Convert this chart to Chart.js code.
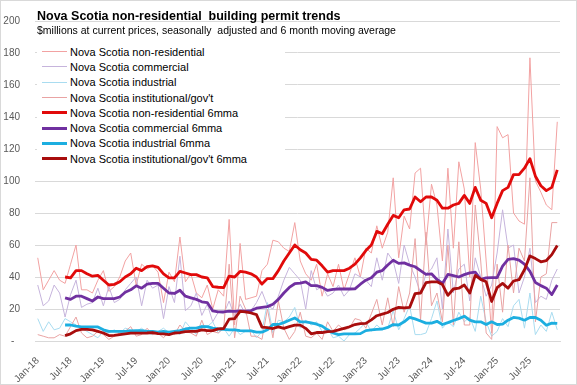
<!DOCTYPE html>
<html lang="en">
    <head>
        <meta charset="utf-8" />
        <script src="https://cdn.jsdelivr.net/npm/chart.js@4.4.1/dist/chart.umd.min.js"></script>
        <title>Nova Scotia non-residential building permit trends</title>
        <style>
            body { margin: 0; background: #fff; font-family: "Liberation Sans", Arial, sans-serif; }
            #wrap { position: relative; width: 577px; height: 385px; }
            #frame { position: absolute; left: 0; top: 0; width: 575px; height: 383px; border: 1px solid #d9d9d9; pointer-events: none; }
            #titulo { position: absolute; left: 37px; top: 9px; font-size: 12.5px; font-weight: bold; line-height: 14px; color: #000; white-space: pre; }
            #subtitulo { position: absolute; left: 37px; top: 24px; font-size: 10.5px; line-height: 12px; color: #000; white-space: pre; }
            #leyenda { position: absolute; left: 37px; top: 44px; width: 248px; background: #fff; padding: 0; }
            .item { height: 15.3px; display: flex; align-items: center; font-size: 11px; color: #000; white-space: pre; }
            .linea { width: 25px; margin-left: 5px; margin-right: 3px; }
        </style>
    </head>
    <body>
        <div id="wrap">
            <canvas id="permisos" width="577" height="385"></canvas>
            <div id="titulo">Nova Scotia non-residential  building permit trends</div>
            <div id="subtitulo">$millions at current prices, seasonally  adjusted and 6 month moving average</div>
            <div id="leyenda"></div>
            <div id="frame"></div>
        </div>
        <script>
            const meses = [
                "Jan-18","Feb-18","Mar-18","Apr-18","May-18","Jun-18","Jul-18","Aug-18","Sep-18","Oct-18","Nov-18","Dec-18",
                "Jan-19","Feb-19","Mar-19","Apr-19","May-19","Jun-19","Jul-19","Aug-19","Sep-19","Oct-19","Nov-19","Dec-19",
                "Jan-20","Feb-20","Mar-20","Apr-20","May-20","Jun-20","Jul-20","Aug-20","Sep-20","Oct-20","Nov-20","Dec-20",
                "Jan-21","Feb-21","Mar-21","Apr-21","May-21","Jun-21","Jul-21","Aug-21","Sep-21","Oct-21","Nov-21","Dec-21",
                "Jan-22","Feb-22","Mar-22","Apr-22","May-22","Jun-22","Jul-22","Aug-22","Sep-22","Oct-22","Nov-22","Dec-22",
                "Jan-23","Feb-23","Mar-23","Apr-23","May-23","Jun-23","Jul-23","Aug-23","Sep-23","Oct-23","Nov-23","Dec-23",
                "Jan-24","Feb-24","Mar-24","Apr-24","May-24","Jun-24","Jul-24","Aug-24","Sep-24","Oct-24","Nov-24","Dec-24",
                "Jan-25","Feb-25","Mar-25","Apr-25","May-25","Jun-25","Jul-25","Aug-25","Sep-25","Oct-25","Nov-25","Dec-25"
            ];
            const ticksY = [0, 20, 40, 60, 80, 100, 120, 140, 160, 180, 200];

            // valores mensuales
            const noResidencial = [
                52, 32, 38, 44, 38, 36, 48, 60, 32, 32, 30, 38,
                44, 31, 34, 40, 50, 55, 35, 48, 45, 47, 43, 24,
                43, 37, 65, 37, 42, 30, 27, 35, 20, 32, 28, 76,
                10, 61, 26, 27, 28, 44, 48, 63, 62, 58, 56, 74,
                50, 42, 38, 48, 28, 42, 34, 48, 32, 42, 52, 40,
                58, 55, 72, 58, 68, 102, 52, 78, 70, 105, 108, 60,
                98, 85, 50, 108, 58, 112, 95, 40, 124, 95, 50, 5,
                134, 127, 129, 80, 75, 73, 177, 100, 93, 85, 82, 137
            ];
            const comercial = [
                35, 22, 25, 35, 30, 15, 29, 38, 21, 23, 24, 33,
                22, 34, 24, 26, 32, 36, 40, 22, 38, 33, 35, 14,
                34, 24, 53, 19, 22, 30, 16, 23, 12, 18, 17, 25,
                15, 23, 17, 19, 24, 31, 22, 20, 28, 38, 46, 42,
                38, 20, 44, 32, 34, 28, 30, 35, 28, 32, 42, 40,
                38, 34, 52, 38, 55, 50, 36, 60, 48, 40, 30, 42,
                45, 52, 20, 70, 30, 45, 48, 25, 52, 40, 28, 35,
                55, 82, 58, 60, 30, 40, 58, 24, 28, 26, 38, 45
            ];
            const industrial = [
                14, 6, 12, 7, 8, 14, 12, 10, 8, 6, 4, 2,
                6, 5, 7, 5, 8, 7, 6, 8, 5, 4, 6, 8,
                5, 6, 4, 12, 8, 4, 10, 9, 12, 5, 8, 3,
                8, 4, 6, 7, 2, 6, 24, 5, 13, 12, 15, 21,
                8, 13, 10, 12, 6, 8, 2, 3, 0, 4, 5, 8,
                12, 6, 10, 7, 8, 19, 7, 14, 22, 4, 4, 5,
                14, 25, 8, 12, 9, 18, 12, 15, 6, 28, 12, 3,
                6, 14, 9, 22, 26, 8, 30, 4, 10, 6, 18, 7
            ];
            const institucional = [
                4, 3, 2, 2, 4, 3, 9, 15, 5, 2, 3, 6,
                4, 1, 3, 5, 6, 9, 3, 4, 8, 4, 5, 2,
                6, 4, 10, 6, 5, 3, 13, 4, 6, 5, 8, 48,
                2, 28, 20, 3, 3, 1, 20, 2, 25, 8, 1, 6,
                18, 3, 2, 5, 1, 12, 6, 10, 7, 8, 14, 13,
                8, 17, 26, 10, 27, 9, 34, 18, 30, 64, 13, 68,
                22, 30, 12, 60, 10, 62, 10, 10, 85, 50, 5, 1,
                48, 18, 60, 30, 58, 50, 102, 12, 40, 42, 74, 74
            ];

            // promedios moviles de 6 meses
            const noResidencial6 = [
                null, null, null, null, null, 40, 39.5, 44, 44, 42, 40.5, 41,
                38, 35, 35.4, 37, 40, 42, 45.5, 44, 46.5, 47, 46, 42,
                39.5, 39.5, 43.5, 42.5, 41.5, 41.5, 40, 39.5, 34, 33.6, 33.4, 40.5,
                40, 43.5, 43, 42, 40, 35.6, 39, 39, 44, 50, 55, 60,
                57, 55, 51, 50.5, 47, 43, 44, 44, 44, 45.5, 48, 52,
                56.5, 60, 68.5, 67, 73, 78.5, 77, 82, 82.5, 90, 87, 90,
                90, 88, 83, 83, 85, 86, 91, 86, 96, 88, 86, 77,
                86, 94, 96, 104, 104, 108, 114, 103, 97, 94, 96, 107
            ];
            const comercial6 = [
                null, null, null, null, null, 27, 26, 28, 28, 26.5, 25, 27.5,
                26.5, 26.5, 26.5, 27.5, 30.5, 32, 34.5, 33, 35.5, 36, 36, 33,
                30, 29.7, 31.7, 28, 27, 26, 24.5, 24, 18.8, 18.2, 18.2, 18.7,
                18.5, 18.8, 18.7, 19, 20.5, 21, 21.5, 23, 26, 30, 33.5, 35.8,
                36.2, 37, 34.6, 34.6, 33.5, 31.6, 32.2, 32.5, 32.5, 32.5, 32.6, 35.5,
                38, 39.5, 43, 44, 47.5, 50.5, 48.5, 48.8, 47.4, 46.4, 44, 41.6,
                42, 38.5, 36, 41.6, 40.8, 40, 41.5, 42.6, 43, 38.6, 39.5, 39.6,
                39.6, 46.8, 51, 51.5, 50.6, 48, 43.5, 36.6, 34.6, 33, 29, 35
            ];
            const industrial6 = [
                null, null, null, null, null, 10, 10, 9.3, 8.8, 8.8, 8.8, 8.8,
                7, 6, 6, 6, 6, 6.3, 6.5, 6.5, 6, 6, 5.5, 6,
                5.5, 6, 6.5, 7.5, 8, 8, 9, 9, 8, 7.5, 7.3, 7,
                6.9, 6.5, 6.3, 6.3, 5.5, 5.5, 7, 10.3, 10.3, 11.5, 13, 14.4,
                12, 11.9, 11.3, 10.5, 9.3, 7, 5, 4, 4.5, 4.5, 4.5, 4.6,
                6.5, 6.9, 7.3, 7.5, 8.5, 10.3, 10, 12, 14.8, 13.8, 12.5, 11.2,
                11.2, 12.3, 10.3, 11.5, 12.8, 14, 15.5, 13, 12, 12, 10.3, 12,
                10.3, 10.5, 13, 14.7, 14.3, 13, 14.7, 14.7, 13, 9.8, 11.2, 11
            ];
            const institucional6 = [
                null, null, null, null, null, 3.4, 4.5, 6.5, 7.3, 7.3, 6.9, 6,
                5, 3.4, 3.5, 4, 4.5, 4.9, 4.9, 4.9, 5, 5.3, 4.6, 4.5,
                4, 5, 5.3, 5.9, 6, 6, 6.9, 6.5, 6.5, 7.6, 7.8, 13.7,
                14, 18.5, 18.2, 17.5, 16.5, 8.7, 8.3, 7.8, 8.8, 7.9, 9, 9.9,
                9.9, 7.9, 4.5, 5.3, 5.3, 5.9, 6, 6.9, 7.9, 8.9, 10.3, 10.9,
                11, 13.2, 15.8, 16.8, 17.8, 19.8, 21, 20.7, 21, 29.6, 30, 36.5,
                37, 37, 35.3, 28.5, 32.5, 33, 35, 30, 41, 38.5, 37, 24.7,
                33.3, 36, 33, 37.5, 38.3, 44.5, 53.2, 51.5, 49.5, 50.3, 54, 59.7
            ];

            const series = [
                { label: "Nova Scotia non-residential", data: noResidencial, color: "#f2a2a2", ancho: 1, orden: 8 },
                { label: "Nova Scotia commercial", data: comercial, color: "#c6b4dc", ancho: 1, orden: 7 },
                { label: "Nova Scotia industrial", data: industrial, color: "#a9dcf0", ancho: 1, orden: 6 },
                { label: "Nova Scotia institutional/gov't", data: institucional, color: "#e9a3a3", ancho: 1, orden: 5 },
                { label: "Nova Scotia non-residential 6mma", data: noResidencial6, color: "#e10a0a", ancho: 2.8, orden: 4 },
                { label: "Nova Scotia commercial 6mma", data: comercial6, color: "#7030a0", ancho: 2.8, orden: 3 },
                { label: "Nova Scotia industrial 6mma", data: industrial6, color: "#1caee0", ancho: 2.8, orden: 2 },
                { label: "Nova Scotia institutional/gov't 6mma", data: institucional6, color: "#a80d0d", ancho: 2.8, orden: 1 }
            ];

            const leyenda = document.querySelector("#leyenda");
            series.forEach(function (s) {
                const fila = document.createElement("div");
                fila.className = "item";
                const linea = document.createElement("span");
                linea.className = "linea";
                linea.style.borderTop = Math.round(s.ancho) + "px solid " + s.color;
                fila.appendChild(linea);
                fila.appendChild(document.createTextNode(s.label));
                leyenda.appendChild(fila);
            });

            new Chart(document.querySelector("#permisos").getContext("2d"), {
                type: "line",
                data: {
                    labels: meses,
                    datasets: series.map(function (s) {
                        return {
                            label: s.label,
                            data: s.data,
                            borderColor: s.color,
                            backgroundColor: s.color,
                            borderWidth: s.ancho,
                            pointRadius: 0,
                            tension: 0,
                            order: s.orden,
                            borderJoinStyle: "round"
                        };
                    })
                },
                options: {
                    responsive: false,
                    animation: false,
                    devicePixelRatio: 1,
                    layout: { padding: { top: 8, right: 17, left: 0, bottom: 0 } },
                    scales: {
                        x: {
                            offset: true,
                            grid: { display: false },
                            border: { display: true, color: "#d9d9d9" },
                            ticks: {
                                autoSkip: false,
                                minRotation: 45,
                                maxRotation: 45,
                                padding: 6,
                                color: "#595959",
                                font: { family: "'Liberation Sans', Arial", size: 10 },
                                callback: function (valor, i) {
                                    return i % 6 === 0 ? meses[i] : null;
                                }
                            },
                            afterFit: function (escala) { escala.height = 44; }
                        },
                        y: {
                            min: 0,
                            max: 200,
                            afterBuildTicks: function (escala) {
                                escala.ticks = ticksY.map(function (v) { return { value: v }; });
                            },
                            grid: { color: "#d9d9d9", drawTicks: false },
                            border: { display: false },
                            ticks: {
                                padding: 15,
                                color: "#595959",
                                font: { family: "'Liberation Sans', Arial", size: 10 },
                                callback: function (numero) {
                                    return numero === 0 ? "-  " : numero;
                                }
                            },
                            afterFit: function (escala) { escala.width = 35; }
                        }
                    },
                    plugins: {
                        legend: { display: false },
                        tooltip: { enabled: false }
                    }
                }
            });
        </script>
    </body>
</html>
